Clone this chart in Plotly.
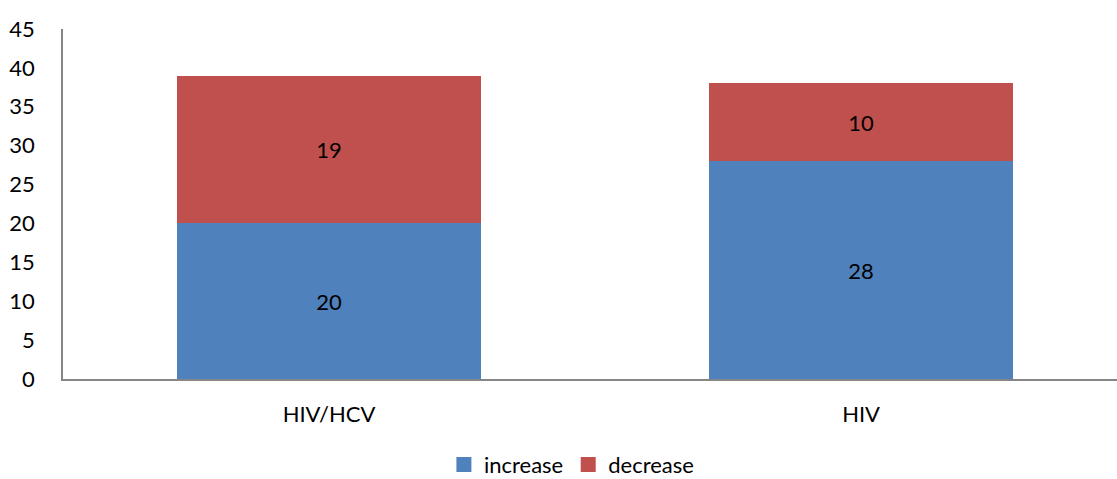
import plotly.graph_objects as go

categories = ["HIV/HCV", "HIV"]
increase = [20, 28]
decrease = [19, 10]
y_ticks = [0, 5, 10, 15, 20, 25, 30, 35, 40, 45]

FONT = "Lato, 'Open Sans', sans-serif"
BLUE = "#4F81BD"
RED = "#C0504D"
AXIS = "#868686"

series = [("increase", increase, BLUE), ("decrease", decrease, RED)]

fig = go.Figure()
for name, vals, color in series:
    fig.add_trace(go.Bar(
        name=name,
        x=list(range(len(categories))),
        y=vals,
        width=0.571,
        marker=dict(color=color, line=dict(width=0)),
        text=[str(v) for v in vals],
        textposition="inside",
        insidetextanchor="middle",
        textangle=0,
        textfont=dict(family=FONT, size=22, color="black"),
        showlegend=False,
        legendgroup=name,
    ))

# legend entries with square swatches
for name, vals, color in series:
    fig.add_trace(go.Scatter(
        name=name,
        x=[None], y=[None],
        mode="markers",
        marker=dict(symbol="square", size=15, color=color),
        legendgroup=name,
        showlegend=True,
    ))

fig.update_layout(
    barmode="stack",
    width=1117,
    height=479,
    margin=dict(l=63, r=0, t=29, b=100),
    paper_bgcolor="white",
    plot_bgcolor="white",
    font=dict(family=FONT, size=22, color="black"),
    showlegend=True,
    legend=dict(
        orientation="h",
        traceorder="normal",
        xref="container", yref="container",
        x=0.512, xanchor="center",
        y=0.03, yanchor="middle",
        font=dict(family=FONT, size=22, color="black"),
        itemwidth=30,
        tracegroupgap=0,
    ),
    xaxis=dict(
        range=[-0.5, 1.481],
        tickmode="array",
        tickvals=list(range(len(categories))),
        ticktext=categories,
        showgrid=False,
        zeroline=False,
        showline=True,
        linecolor=AXIS,
        linewidth=2,
        ticks="",
        ticklabelstandoff=15,
        tickfont=dict(family=FONT, size=22, color="black"),
    ),
    yaxis=dict(
        range=[0, 45],
        tickmode="array",
        tickvals=y_ticks,
        showgrid=False,
        zeroline=False,
        showline=True,
        linecolor=AXIS,
        linewidth=1.5,
        ticks="",
        ticklabelstandoff=22,
        tickfont=dict(family=FONT, size=22, color="black"),
    ),
)

fig.write_html("out.html")
